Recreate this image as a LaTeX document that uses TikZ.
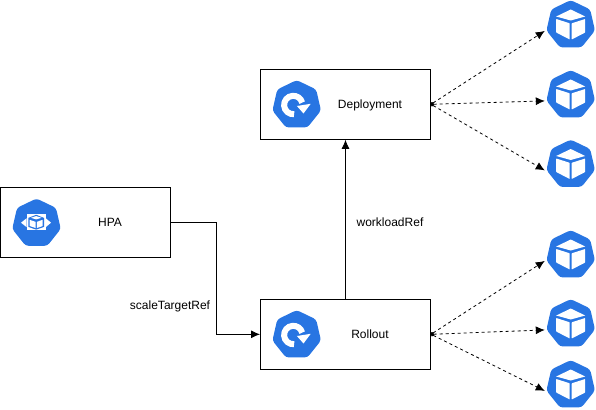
\documentclass[tikz,border=0pt]{standalone}
\usepackage{fontspec}
\setmainfont{Liberation Sans}
\usepackage{xcolor}
\usetikzlibrary{arrows.meta,shapes.geometric}
\definecolor{kubeblue}{HTML}{2875E2}
\tikzset{
  box/.style={draw=black,line width=1pt,minimum width=170pt,minimum height=70pt,inner sep=0pt},
  heptagon/.style={regular polygon,regular polygon sides=7,fill=kubeblue,minimum size=49.8pt,inner sep=0pt,outer sep=1.5pt,rounded corners=3pt},
  label/.style={inner sep=0pt,text height=9pt,text depth=3pt,font=\fontsize{12}{14}\selectfont},
  link/.style={line width=0.8pt,-{Latex[length=9pt,width=8pt]}},
  podlink/.style={line width=0.8pt,dashed,dash pattern=on 3pt off 3pt,{Circle[length=3pt]}-{Latex[length=9pt,width=8pt]}},
  podcube/.pic={
    \fill[white] (0,15.5) -- (14.5,8.5) -- (0,4.5) -- (-14.5,8.5) -- cycle;
    \fill[white,rounded corners=0.5pt] (-14.5,6) -- (-1,1.7) -- (-1,-14.5) -- (-14.5,-7.5) -- cycle;
    \fill[white,rounded corners=0.5pt] (14.5,6) -- (1,1.7) -- (1,-14.5) -- (14.5,-7.5) -- cycle;
  },
  rolloutarrow/.pic={
    \draw[white,line width=6pt] (-3.4,0) ++(-85:9.2) arc (-85:-345:9.2);
    \fill[white] (14,1.2) -- (0.2,-1) -- (6.8,-8.5) -- cycle;
  },
  hpacube/.pic={
    \fill[white] (-9.8,-6.6) rectangle (9.2,9.4);
    \fill[white] (-15.5,0.7) -- (-9.8,5.2) -- (-9.8,-3.8) -- cycle;
    \fill[white] (14.5,0.7) -- (9.2,5.2) -- (9.2,-3.8) -- cycle;
    \fill[kubeblue] (-0.3,8.6) -- (7.5,5.5) -- (7.5,-3.5) -- (-0.3,-6.2) -- (-8.2,-3.5) -- (-8.2,5.5) -- cycle;
    \fill[white] (-0.3,4) -- (5,5.6) -- (-0.3,7.3) -- (-5.6,5.6) -- cycle;
    \fill[white] (-6.8,3.6) -- (-1,1.6) -- (-1,-4.6) -- (-6.8,-2.6) -- cycle;
    \fill[white] (6.2,3.6) -- (0.4,1.6) -- (0.4,-4.6) -- (6.2,-2.6) -- cycle;
  }
}
\begin{document}
\begin{tikzpicture}[x=1pt,y=1pt]
\useasboundingbox (0,0) rectangle (596,-409);
\node[box](hpa) at (85.5,-222.3){};
\node[box](deployment) at (345.5,-104.3){};
\node[box](rollout) at (345.5,-334.3){};
\node[heptagon](hpaicon) at (36.5,-223.4){};
\node[heptagon](deploymenticon) at (296.7,-105){};
\node[heptagon](rollouticon) at (296.7,-335){};
\node[label](hpatext) at (110,-223.2){HPA};
\node[label](deploymenttext) at (370,-105.2){Deployment};
\node[label](rollouttext) at (370,-335.2){Rollout};
\node[label](scaletext) at (170,-306.5){scaleTargetRef};
\node[label](workloadtext) at (390,-223.5){workloadRef};
\node[heptagon](pod1) at (570.7,-25){};
\node[heptagon](pod2) at (570.7,-95){};
\node[heptagon](pod3) at (570.7,-164.5){};
\node[heptagon](pod4) at (570.7,-255){};
\node[heptagon](pod5) at (570.7,-324){};
\node[heptagon](pod6) at (570.7,-385){};
\pic at (hpaicon) {hpacube};
\pic at (deploymenticon) {rolloutarrow};
\pic at (rollouticon) {rolloutarrow};
\pic at (pod1) {podcube};
\pic at (pod2) {podcube};
\pic at (pod3) {podcube};
\pic at (pod4) {podcube};
\pic at (pod5) {podcube};
\pic at (pod6) {podcube};
\draw[link](hpa.east) -- ++(45,0) |- (rollout.west);
\draw[link](rollout.north) -- (deployment.south);
\draw[podlink](deployment.east) -- (pod1.corner 3);
\draw[podlink](deployment.east) -- (pod2.corner 3);
\draw[podlink](deployment.east) -- (pod3.corner 3);
\draw[podlink](rollout.east) -- (pod4.corner 3);
\draw[podlink](rollout.east) -- (pod5.corner 3);
\draw[podlink](rollout.east) -- (pod6.corner 3);
\end{tikzpicture}
\end{document}
